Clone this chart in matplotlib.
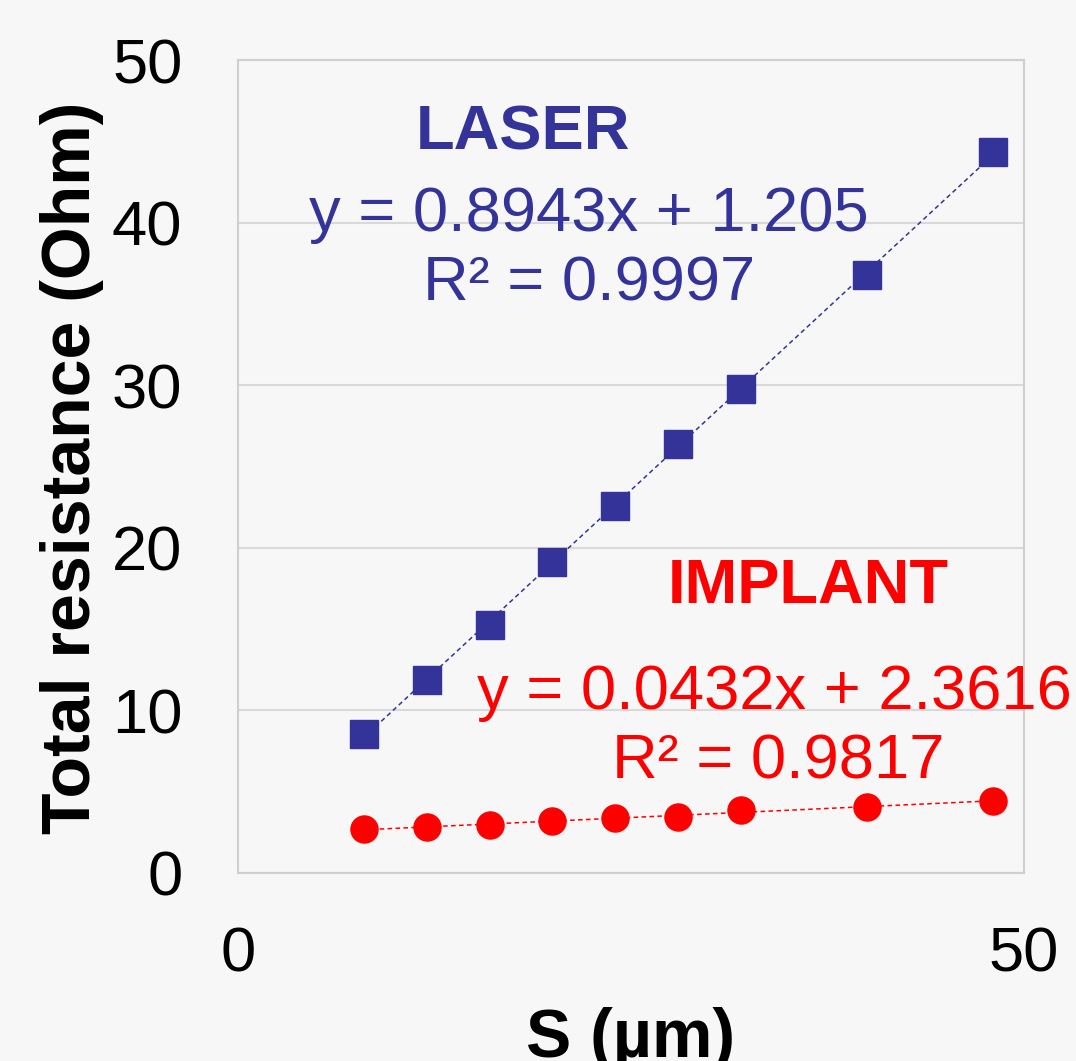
import numpy as np
import matplotlib
matplotlib.use("Agg")
import matplotlib.pyplot as plt

plt.rcParams['font.family'] = ['Liberation Sans', 'DejaVu Sans']

# spacing S (um)
s_laser = [8, 12, 16, 20, 24, 28, 32, 40, 48]
r_laser = [8.55, 11.9, 15.25, 19.15, 22.55, 26.4, 29.75, 36.75, 44.35]

s_implant = [8, 12, 16, 20, 24, 28, 32, 40, 48]
r_implant = [2.7, 2.83, 2.95, 3.2, 3.38, 3.44, 3.87, 4.06, 4.43]

x_ticks = [0, 50]
y_ticks = [0, 10, 20, 30, 40, 50]

blue = '#333399'
red = '#ff0000'
bg = '#f7f7f7'

fig = plt.figure(figsize=(10.76, 10.61), dpi=100, facecolor=bg)
ax = fig.add_axes([0.2212, 0.1772, 0.7305, 0.7662])
ax.set_facecolor(bg)

# trendlines from a linear fit of each series
for xs, ys, c in [(s_laser, r_laser, blue), (s_implant, r_implant, red)]:
    k, b = np.polyfit(xs, ys, 1)
    xx = np.array([min(xs), max(xs)])
    ax.plot(xx, k * xx + b, color=c, lw=1.1, ls=(0, (3, 2.2)), zorder=2)

ax.plot(s_laser, r_laser, ls='none', marker='s', ms=19.5, color=blue, zorder=3)
ax.plot(s_implant, r_implant, ls='none', marker='o', ms=19.5, color=red, zorder=3)

ax.set_xlim(0, 50)
ax.set_ylim(0, 50)
ax.set_xticks(x_ticks)
ax.set_yticks(y_ticks)
ax.tick_params(axis='both', length=0, labelsize=45.5)
ax.tick_params(axis='x', pad=38)
ax.tick_params(axis='y', pad=40)
ax.grid(axis='y', color='#d9d9d9', lw=1.5)
ax.set_axisbelow(True)
for sp in ax.spines.values():
    sp.set_color('#cfcfcf')
    sp.set_linewidth(1.5)

ax.set_ylabel('Total resistance (Ohm)', fontsize=49, fontweight='bold')
ax.yaxis.set_label_coords(-0.171, 0.498)
ax.set_xlabel('S (µm)', fontsize=49, fontweight='bold')
ax.xaxis.set_label_coords(0.499, -0.165)

ax.text(18.1, 45.5, 'LASER', color=blue, fontsize=45.5, fontweight='bold',
        ha='center', va='center')
ax.text(22.3, 40.5, 'y = 0.8943x + 1.205', color=blue, fontsize=45.5,
        ha='center', va='center')
ax.text(22.3, 36.25, 'R² = 0.9997', color=blue, fontsize=45.5,
        ha='center', va='center')

ax.text(36.3, 17.65, 'IMPLANT', color=red, fontsize=45.5, fontweight='bold',
        ha='center', va='center')
ax.text(15.2, 11.1, 'y = 0.0432x + 2.3616', color=red, fontsize=45.5,
        ha='left', va='center', clip_on=False)
ax.text(34.35, 6.85, 'R² = 0.9817', color=red, fontsize=45.5,
        ha='center', va='center')

fig.savefig('out.png', dpi=100, facecolor=bg)
